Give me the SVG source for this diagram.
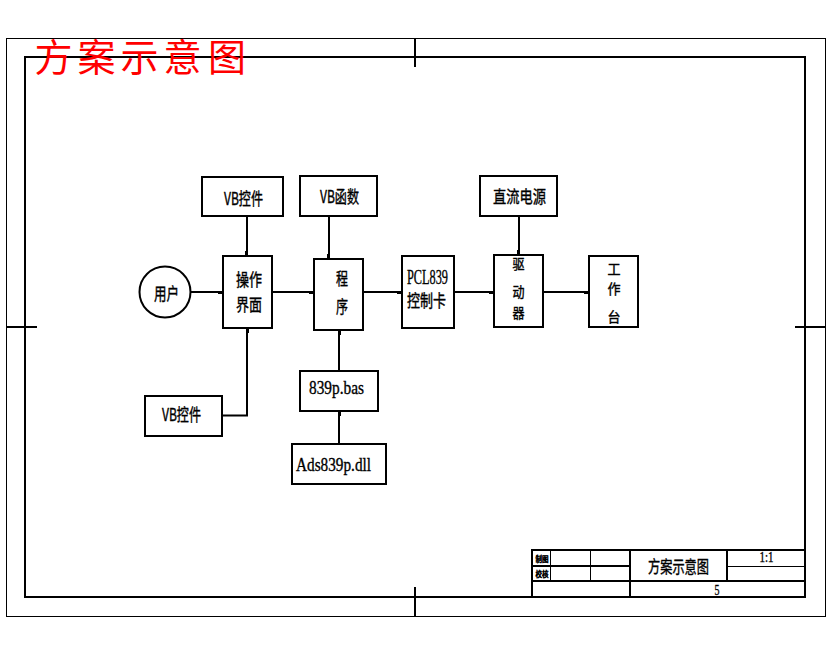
<svg xmlns="http://www.w3.org/2000/svg" width="830" height="654" viewBox="0 0 830 654">
<style>
text{font-family:"Liberation Serif","Noto Sans CJK SC",serif;fill:#000;text-anchor:middle}
.lat{stroke:#000;stroke-width:.35}
.n{fill:#fff;stroke:#000;stroke-width:2}
.c{fill:none;stroke:#000;stroke-width:2}
.f{fill:none;stroke:#000;stroke-width:2}
.t{fill:none;stroke:#000;stroke-width:1}
.cjk{font-family:"Noto Sans CJK SC",sans-serif;stroke:#000;stroke-width:.4}
.title{font-family:"Noto Sans CJK SC",sans-serif;fill:#f00;font-size:38px}
</style>
<defs>
<marker id="tip" markerUnits="userSpaceOnUse" markerWidth="6" markerHeight="6" refX="5" refY="2" orient="auto"><rect x="0" y="1" width="5" height="3" fill="#000"/></marker>
</defs>
<g id="frame" shape-rendering="crispEdges">
<rect class="t" x="6.500" y="38.500" width="819" height="578"/>
<rect class="f" x="25" y="57" width="780" height="540"/>
<path class="f" d="M415 39V67M415 587V616M6 326.500H37M795 326.500H825"/>
</g>
<g id="connectors">
<path class="c" d="M247 216V256" marker-end="url(#tip)"/>
<path class="c" d="M329 216V259" marker-end="url(#tip)"/>
<path class="c" d="M191 292H223" marker-end="url(#tip)"/>
<path class="c" d="M272 292H314" marker-end="url(#tip)"/>
<path class="c" d="M363 292H402" marker-end="url(#tip)"/>
<path class="c" d="M454 292H494" marker-end="url(#tip)"/>
<path class="c" d="M543 292H589" marker-end="url(#tip)"/>
<path class="c" d="M519 216V255" marker-end="url(#tip)"/>
<path class="c" d="M222 415.500H247V328" marker-end="url(#tip)"/>
<path class="c" d="M339 371V330" marker-end="url(#tip)"/>
<path class="c" d="M339 444V411" marker-end="url(#tip)"/>
</g>
<g id="title"><text class="title" x="53.500" y="71">方</text><text class="title" x="96.500" y="71">案</text><text class="title" x="139.500" y="71">示</text><text class="title" x="182.500" y="71">意</text><text class="title" x="227" y="71">图</text></g>
<g id="user"><circle class="n" cx="165" cy="292" r="25.500"/><text class="cjk" x="166.500" y="300" font-size="17" textLength="25" lengthAdjust="spacingAndGlyphs">用户</text></g>
<g id="vb1"><rect class="n" x="202" y="177" width="81" height="39"/><text class="cjk" x="243.500" y="205" font-size="17" textLength="39" lengthAdjust="spacingAndGlyphs">VB控件</text></g>
<g id="vb2"><rect class="n" x="300" y="176" width="77" height="40"/><text class="cjk" x="339.500" y="203" font-size="17" textLength="39" lengthAdjust="spacingAndGlyphs">VB函数</text></g>
<g id="ui"><rect class="n" x="223" y="256" width="49" height="72"/><text class="cjk" x="249" y="286" font-size="17" textLength="26" lengthAdjust="spacingAndGlyphs">操作</text><text class="cjk" x="249" y="311" font-size="17" textLength="26" lengthAdjust="spacingAndGlyphs">界面</text></g>
<g id="prog"><rect class="n" x="314" y="259" width="49" height="71"/><text class="cjk" x="342" y="285" font-size="17" textLength="12" lengthAdjust="spacingAndGlyphs">程</text><text class="cjk" x="342" y="313" font-size="17" textLength="12" lengthAdjust="spacingAndGlyphs">序</text></g>
<g id="card"><rect class="n" x="402" y="256" width="52" height="72"/><text class="lat" x="427.500" y="284" font-size="20" textLength="41" lengthAdjust="spacingAndGlyphs">PCL839</text><text class="cjk" x="426.500" y="307" font-size="17" textLength="39" lengthAdjust="spacingAndGlyphs">控制卡</text></g>
<g id="driver"><rect class="n" x="494" y="255" width="49" height="72"/><text class="cjk" x="518.500" y="269" font-size="14" textLength="12" lengthAdjust="spacingAndGlyphs">驱</text><text class="cjk" x="518.500" y="296.500" font-size="14" textLength="12" lengthAdjust="spacingAndGlyphs">动</text><text class="cjk" x="518.500" y="318" font-size="14" textLength="12" lengthAdjust="spacingAndGlyphs">器</text></g>
<g id="bench"><rect class="n" x="589" y="256" width="49" height="71"/><text class="cjk" x="614" y="273.500" font-size="14" textLength="13" lengthAdjust="spacingAndGlyphs">工</text><text class="cjk" x="614" y="294" font-size="14" textLength="13" lengthAdjust="spacingAndGlyphs">作</text><text class="cjk" x="614" y="322" font-size="14" textLength="13" lengthAdjust="spacingAndGlyphs">台</text></g>
<g id="power"><rect class="n" x="480" y="176" width="77" height="40"/><text class="cjk" x="519.500" y="203" font-size="17" textLength="53" lengthAdjust="spacingAndGlyphs">直流电源</text></g>
<g id="vb3"><rect class="n" x="145" y="396" width="77" height="40"/><text class="cjk" x="181.500" y="421" font-size="17" textLength="39" lengthAdjust="spacingAndGlyphs">VB控件</text></g>
<g id="bas"><rect class="n" x="300" y="371" width="78" height="40"/><text class="lat" x="336.500" y="394" font-size="18" textLength="55" lengthAdjust="spacingAndGlyphs">839p.bas</text></g>
<g id="dll"><rect class="n" x="292" y="444" width="94" height="40"/><text class="lat" x="333.500" y="471" font-size="18" textLength="75" lengthAdjust="spacingAndGlyphs">Ads839p.dll</text></g>
<g id="titleblock" shape-rendering="crispEdges">
<path class="f" d="M532 597V550H805M532 581H805M532 566H630M630 550V597M727 550V581"/>
<path class="t" d="M550.500 550V581M590.500 550V581M727 566H805"/>
<text class="cjk" x="542" y="562" font-size="8" textLength="13" lengthAdjust="spacingAndGlyphs" style="stroke-width:.6">制图</text>
<text class="cjk" x="542" y="577" font-size="8" textLength="13" lengthAdjust="spacingAndGlyphs" style="stroke-width:.6">校核</text>
<text class="cjk" x="678.500" y="573" font-size="17" textLength="61" lengthAdjust="spacingAndGlyphs">方案示意图</text>
<text class="lat" x="766.500" y="562" font-size="14" textLength="14" lengthAdjust="spacingAndGlyphs">1:1</text>
<text class="lat" x="717" y="595" font-size="14" textLength="5" lengthAdjust="spacingAndGlyphs">5</text>
</g>
</svg>
